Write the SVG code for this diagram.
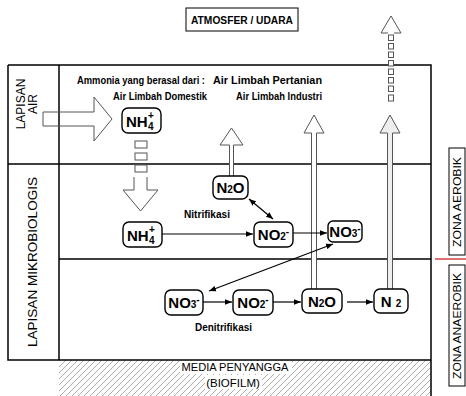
<svg xmlns="http://www.w3.org/2000/svg" width="466" height="396" viewBox="0 0 466 396">
<defs>
<style>
.frame{fill:none;stroke:#000;stroke-width:1.5}
.box{fill:#fff;stroke:#000;stroke-width:1.4}
.hol{fill:#fff;stroke:#555;stroke-width:1}
.con{fill:none;stroke:#000;stroke-width:1.2}
.lbl{font-family:"Liberation Sans",Arial,sans-serif;font-weight:bold;font-size:11px;fill:#000}
.rot{font-family:"Liberation Sans",Arial,sans-serif;font-size:12px;fill:#000}
.zona{font-family:"Liberation Sans",Arial,sans-serif;font-size:11px;fill:#000}
.chem{font-family:"Liberation Sans",Arial,sans-serif;font-weight:bold;font-size:15px;fill:#000}
.sm{font-size:10px}
.media{font-family:"Liberation Sans",Arial,sans-serif;font-size:11.5px;fill:#000}
</style>
<marker id="ah" viewBox="0 0 10 10" refX="10" refY="5" markerWidth="7" markerHeight="7" orient="auto-start-reverse" markerUnits="userSpaceOnUse">
<path d="M0,1 L10,5 L0,9 z" fill="#000"/>
</marker>
<pattern id="hatch" patternUnits="userSpaceOnUse" width="6" height="6">
<path d="M-1,7 L7,-1 M-1,1 L1,-1 M5,7 L7,5" stroke="#888" stroke-width="0.7"/>
</pattern>
</defs>
<rect width="466" height="396" fill="#fff"/>

<g id="atmosfer">
<rect x="186" y="8" width="112" height="23" fill="#fff" stroke="#000" stroke-width="1"/>
<text class="lbl" x="242" y="24" text-anchor="middle" textLength="102" lengthAdjust="spacingAndGlyphs">ATMOSFER / UDARA</text>
</g>

<g id="media">
<rect x="59" y="360" width="372" height="36" fill="url(#hatch)"/>
<rect x="180" y="361" width="112" height="13" fill="#fff"/>
<rect x="205" y="375" width="57" height="14" fill="#fff"/>
<text class="media" x="235" y="371" text-anchor="middle" textLength="107" lengthAdjust="spacingAndGlyphs">MEDIA PENYANGGA</text>
<text class="media" x="233" y="387" text-anchor="middle">(BIOFILM)</text>
</g>

<g id="frame">
<path class="frame" d="M8,65 H431 V396 M8,65 V360 H431 M59,65 V360 M8,164 H431 M59,259 H431"/>
</g>

<g id="lapisan-air">
<text class="rot" transform="translate(25,104) rotate(-90)" text-anchor="middle">LAPISAN</text>
<text class="rot" transform="translate(37,104) rotate(-90)" text-anchor="middle">AIR</text>
</g>
<g id="lapisan-mikro">
<text class="rot" transform="translate(37,262) rotate(-90)" text-anchor="middle" textLength="170" lengthAdjust="spacingAndGlyphs">LAPISAN MIKROBIOLOGIS</text>
</g>

<g id="zona-aerobik">
<rect x="449" y="148" width="16" height="107" fill="#fff" stroke="#000" stroke-width="1"/>
<text class="zona" transform="translate(461,202) rotate(-90)" text-anchor="middle" textLength="90" lengthAdjust="spacingAndGlyphs">ZONA AEROBIK</text>
</g>
<line x1="435" y1="259" x2="466" y2="259" stroke="#d04040" stroke-width="1.5"/>
<g id="zona-anaerobik">
<rect x="449" y="265" width="16" height="121" fill="#fff" stroke="#000" stroke-width="1"/>
<text class="zona" transform="translate(461,326) rotate(-90)" text-anchor="middle" textLength="106" lengthAdjust="spacingAndGlyphs">ZONA ANAEROBIK</text>
</g>

<g id="sumber">
<text class="lbl" x="77" y="84" style="font-size:10px" textLength="128" lengthAdjust="spacingAndGlyphs">Ammonia yang berasal dari :</text>
<text class="lbl" x="213" y="84" style="font-size:10px" textLength="109" lengthAdjust="spacingAndGlyphs">Air Limbah Pertanian</text>
<text class="lbl" x="113" y="100" style="font-size:10px" textLength="94" lengthAdjust="spacingAndGlyphs">Air Limbah Domestik</text>
<text class="lbl" x="236" y="100" style="font-size:10px" textLength="86" lengthAdjust="spacingAndGlyphs">Air Limbah Industri</text>
</g>

<g id="arrows-hollow">
<path class="hol" style="fill:none" d="M43,112 H94 V97 L112,119 L94,141 V126 H43 Z"/>
<rect class="hol" x="135" y="141" width="12" height="7"/>
<rect class="hol" x="135" y="153" width="12" height="7"/>
<rect class="hol" x="135" y="165" width="12" height="7"/>
<path class="hol" d="M134,177 V190 H123 L140.5,211 L158,190 H147 V177"/>
<path class="hol" d="M229.5,176 V145 H220 L231.5,128 L243,145 H233.5 V176"/>
<path class="hol" d="M311.5,289 V133 H304 L314,115 L324,133 H316.5 V289"/>
<path class="hol" d="M387.5,289 V133 H380 L390,115 L400,133 H392.5 V289" style="fill:#eee"/>
<path class="hol" d="M388,33 H381 L391,16 L401,33 H394"/>
<rect class="hol" x="388.5" y="35" width="5" height="5.5"/>
<rect class="hol" x="388.5" y="43.5" width="5" height="5.5"/>
<rect class="hol" x="388.5" y="52" width="5" height="5.5"/>
<rect class="hol" x="388.5" y="60.5" width="5" height="5.5"/>
<rect class="hol" x="388.5" y="69" width="5" height="5.5"/>
<rect class="hol" x="388.5" y="77.5" width="5" height="5.5"/>
<rect class="hol" x="388.5" y="86" width="5" height="5.5"/>
<rect class="hol" x="388.5" y="95" width="5" height="6"/>
</g>

<g id="connectors">
<line class="con" x1="162" y1="234" x2="253" y2="234" marker-end="url(#ah)"/>
<line class="con" x1="293" y1="233" x2="327" y2="233" marker-end="url(#ah)"/>
<line class="con" x1="249" y1="199" x2="273" y2="219" marker-start="url(#ah)" marker-end="url(#ah)"/>
<line class="con" x1="209" y1="291" x2="333" y2="244" marker-start="url(#ah)" marker-end="url(#ah)"/>
<line class="con" x1="203" y1="302" x2="232" y2="302" marker-end="url(#ah)"/>
<line class="con" x1="273" y1="302" x2="301" y2="302" marker-end="url(#ah)"/>
<line class="con" x1="347" y1="302" x2="373" y2="302" marker-end="url(#ah)"/>
</g>

<g id="nh4-air">
<rect class="box" x="122" y="108" width="39" height="25" rx="6"/>
<text class="chem" x="126" y="127">NH</text>
<text class="chem sm" x="148" y="130">4</text>
<text class="chem sm" x="148" y="119">+</text>
</g>

<g id="nh4-mikro">
<rect class="box" x="123" y="222" width="39" height="25" rx="6"/>
<text class="chem" x="127" y="241">NH</text>
<text class="chem sm" x="149" y="244">4</text>
<text class="chem sm" x="149" y="233">+</text>
</g>

<g id="n2o-atas">
<rect class="box" x="213" y="176" width="35" height="23" rx="6"/>
<text class="chem" x="230.5" y="193" text-anchor="middle">N<tspan class="sm">2</tspan>O</text>
</g>

<text class="lbl" x="184" y="218" textLength="46" lengthAdjust="spacingAndGlyphs">Nitrifikasi</text>

<g id="no2-atas">
<rect class="box" x="254" y="222" width="39" height="25" rx="6"/>
<text class="chem" x="273.5" y="240" text-anchor="middle">NO<tspan class="sm">2</tspan><tspan class="sm" dy="-5">-</tspan></text>
</g>

<g id="no3-atas">
<rect class="box" x="328" y="221" width="34" height="21" rx="5"/>
<text class="chem" x="345" y="237" text-anchor="middle">NO<tspan class="sm">3</tspan><tspan class="sm" dy="-5">-</tspan></text>
</g>

<g id="no3-bawah">
<rect class="box" x="165" y="290" width="38" height="25" rx="6"/>
<text class="chem" x="184" y="308" text-anchor="middle">NO<tspan class="sm">3</tspan><tspan class="sm" dy="-5">-</tspan></text>
</g>

<g id="no2-bawah">
<rect class="box" x="233" y="290" width="40" height="25" rx="6"/>
<text class="chem" x="253" y="308" text-anchor="middle">NO<tspan class="sm">2</tspan><tspan class="sm" dy="-5">-</tspan></text>
</g>

<g id="n2o-bawah">
<rect class="box" x="302" y="289" width="40" height="24" rx="6"/>
<text class="chem" x="322" y="307" text-anchor="middle">N<tspan class="sm">2</tspan>O</text>
</g>

<g id="n2">
<rect class="box" x="374" y="289" width="34" height="24" rx="6"/>
<text class="chem" x="391" y="307" text-anchor="middle">N <tspan class="sm">2</tspan></text>
</g>

<text class="lbl" x="195" y="331" textLength="57" lengthAdjust="spacingAndGlyphs">Denitrifikasi</text>
</svg>
